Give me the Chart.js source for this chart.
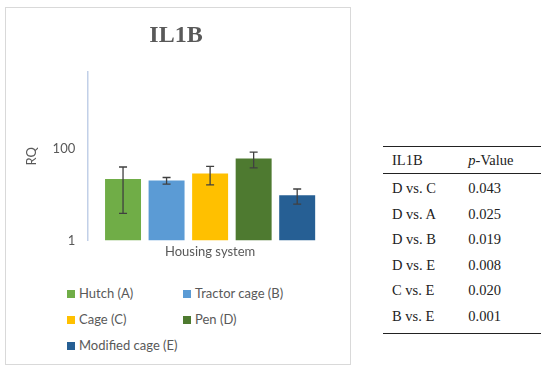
<!DOCTYPE html>
<html>
<head>
<meta charset="utf-8">
<script src="https://cdn.jsdelivr.net/npm/chart.js@4.4.1/dist/chart.umd.min.js"></script>
<style>
  html, body { margin: 0; padding: 0; background: #fff; width: 550px; height: 373px; overflow: hidden; }
  #frame { position: absolute; left: 5px; top: 7px; width: 346px; height: 358px; box-sizing: border-box; border: 1px solid #d9d9d9; }
  #c { position: absolute; left: 0; top: 0; }
  .lg { position: absolute; font-family: Lato, sans-serif; font-size: 13px; color: #595959; line-height: 16px; white-space: nowrap; }
  .lg span.box { display: inline-block; width: 8px; height: 8px; margin-right: 4px; vertical-align: 0px; }
  #tbl { position: absolute; left: 383px; top: 146px; width: 158px; border-collapse: collapse; font-family: "Liberation Serif", serif; font-size: 14.5px; color: #222; }
  #tbl td, #tbl th { height: 22.5px; padding: 3px 0 0 9px; text-align: left; font-weight: normal; vertical-align: top; line-height: 16px; }
  #tbl th { height: 21px; padding-top: 5px; }
  #tbl tbody tr:first-child td { padding-top: 6px; }
  #tbl tbody tr:last-child td { height: 25px; }
  #tbl thead tr { border-top: 1.5px solid #222; border-bottom: 1px solid #222; }
  #tbl tbody tr:last-child { border-bottom: 1.5px solid #222; }
  #tbl td.v, #tbl th.v { padding-left: 0; }
</style>
</head>
<body>
<div id="frame"></div>
<canvas id="c" width="352" height="280"></canvas>
<div id="legend"></div>
<table id="tbl"><thead></thead><tbody></tbody></table>
<script>
// ---- data ----
const chartTitle = 'IL1B';
const categoryLabel = ['Housing system'];
const seriesNames = ['Hutch (A)', 'Tractor cage (B)', 'Cage (C)', 'Pen (D)', 'Modified cage (E)'];
const seriesColors = ['#70ad47', '#5b9bd5', '#ffc000', '#4e7a30', '#265f94'];
const rqValues = [21.9, 20.2, 28.6, 61, 9.7];
const rqErrors = [18, 3.3, 12.4, 23, 3.5];
const yTickValues = [1, 100];
const yAxisTitle = 'RQ';
const comparisons = ['D vs. C', 'D vs. A', 'D vs. B', 'D vs. E', 'C vs. E', 'B vs. E'];
const pValues = ['0.043', '0.025', '0.019', '0.008', '0.020', '0.001'];

const errorBars = {
  id: 'errorBars',
  afterDatasetsDraw(chart) {
    const ctx = chart.ctx;
    const ys = chart.scales.y;
    ctx.save();
    ctx.strokeStyle = '#404040';
    ctx.lineWidth = 1.3;
    chart.data.datasets.forEach((ds, i) => {
      const meta = chart.getDatasetMeta(i);
      const bar = meta.data[0];
      const v = ds.data[0], e = rqErrors[i];
      const yt = ys.getPixelForValue(v + e);
      const yb = ys.getPixelForValue(Math.max(v - e, 1e-3));
      const x = bar.x, w = 4;
      ctx.beginPath();
      ctx.moveTo(x, yt); ctx.lineTo(x, yb);
      ctx.moveTo(x - w, yt); ctx.lineTo(x + w, yt);
      ctx.moveTo(x - w, yb); ctx.lineTo(x + w, yb);
      ctx.stroke();
    });
    ctx.restore();
  }
};

const chart = new Chart(document.getElementById('c'), {
  type: 'bar',
  data: {
    labels: categoryLabel,
    datasets: seriesNames.map((n, i) => ({
      label: n,
      data: [rqValues[i]],
      backgroundColor: seriesColors[i],
      borderWidth: 0,
      categoryPercentage: 0.893,
      barPercentage: 0.826
    }))
  },
  options: {
    responsive: false,
    devicePixelRatio: 1,
    animation: false,
    layout: { padding: { left: 20, right: 20, top: 0, bottom: 16 } },
    plugins: {
      legend: { display: false },
      tooltip: { enabled: false },
      title: {
        display: true, text: chartTitle, color: '#595959',
        font: { family: '"Liberation Serif", serif', size: 24, weight: 'bold' },
        padding: { top: 21.6, bottom: 21.6 }
      }
    },
    scales: {
      x: {
        grid: { display: false, drawTicks: false },
        border: { display: false },
        ticks: { color: '#595959', font: { family: 'Lato', size: 13 }, padding: 4 }
      },
      y: {
        type: 'logarithmic',
        min: 1, max: 4700,
        afterBuildTicks(scale) { scale.ticks = yTickValues.map(v => ({ value: v })); },
        grid: { display: false, drawTicks: false },
        border: { display: true, color: '#c2d0e8', width: 1.5 },
        ticks: { color: '#595959', font: { family: 'Lato', size: 13 }, padding: 13,
                 callback: v => String(v) },
        title: { display: true, text: yAxisTitle, color: '#595959',
                 font: { family: 'Lato', size: 13 }, padding: { top: 4, bottom: 0 } }
      }
    }
  },
  plugins: [errorBars]
});

// HTML legend built from the chart's datasets
const legendPos = [[67, 285], [183, 285], [67, 311], [183, 311], [67, 337]];
const lg = document.getElementById('legend');
chart.data.datasets.forEach((ds, i) => {
  const d = document.createElement('div');
  d.className = 'lg';
  d.style.left = legendPos[i][0] + 'px';
  d.style.top = legendPos[i][1] + 'px';
  d.innerHTML = '<span class="box" style="background:' + ds.backgroundColor + '"></span>' + ds.label;
  lg.appendChild(d);
});

// Table
const thead = document.querySelector('#tbl thead');
thead.innerHTML = '<tr><th>IL1B</th><th class="v"><i>p</i>-Value</th></tr>';
const tbody = document.querySelector('#tbl tbody');
comparisons.forEach((c, i) => {
  const tr = document.createElement('tr');
  tr.innerHTML = '<td>' + c + '</td><td class="v">' + pValues[i] + '</td>';
  tbody.appendChild(tr);
});
</script>
</body>
</html>
